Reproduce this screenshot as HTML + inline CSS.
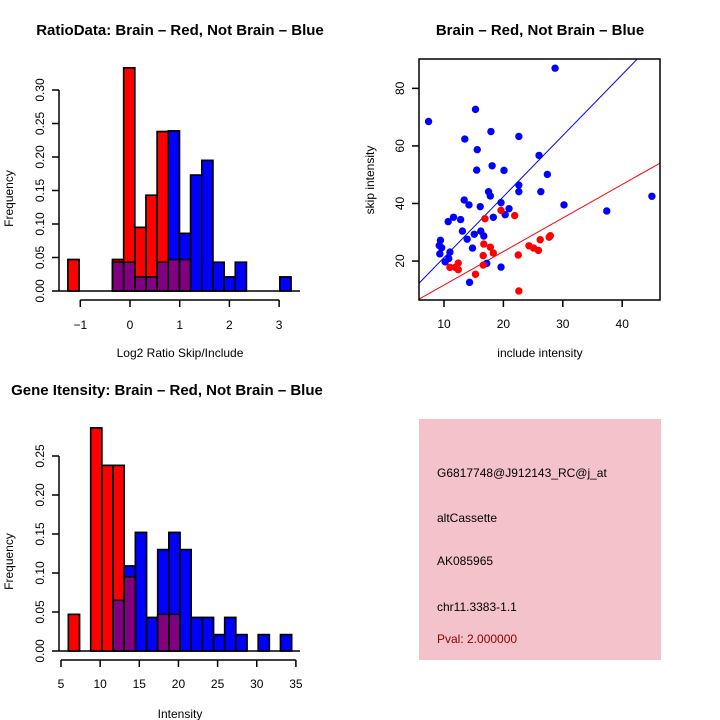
<!DOCTYPE html>
<html><head><meta charset="utf-8"><style>
body{margin:0;background:#fff}
svg{display:block;font-family:"Liberation Sans",sans-serif}
</style></head><body>
<svg id="s" width="720" height="720" viewBox="0 0 720 720">
<rect width="720" height="720" fill="#fff"/>
<g id="g1"></g>
<g id="g2"></g>
<g id="g3"></g>
<g>
<rect x="419" y="419" width="242" height="241" fill="#f4c2cb"/>
<text x="437" y="477" font-size="12">G6817748@J912143_RC@j_at</text>
<text x="437" y="522" font-size="12">altCassette</text>
<text x="437" y="565" font-size="12">AK085965</text>
<text x="437" y="611" font-size="12">chr11.3383-1.1</text>
<text x="437" y="643" font-size="12" fill="#8b0000">Pval: 2.000000</text>
</g>
</svg>
<script>
// Histogram 1 data
const h1Red=[0.047,0,0,0,0.047,0.333,0.095,0.143,0.238,0.047,0.047,0,0,0,0,0,0,0,0,0];
const h1Blue=[0,0,0,0,0.043,0.043,0.021,0.021,0.043,0.239,0.086,0.173,0.195,0.043,0.021,0.043,0,0,0,0.021];
const h1XTicks=[-1,0,1,2,3];
const h1YTicks=["0.00","0.05","0.10","0.15","0.20","0.25","0.30"];
// Histogram 2 data
const h2Red=[0.047,0,0.286,0.238,0.238,0.095,0,0,0.047,0.047,0,0,0,0,0,0,0,0,0,0];
const h2Blue=[0,0,0,0,0.065,0.109,0.152,0.043,0.130,0.152,0.130,0.043,0.043,0.021,0.043,0.021,0,0.021,0,0.021];
const h2XTicks=[5,10,15,20,25,30,35];
const h2YTicks=["0.00","0.05","0.10","0.15","0.20","0.25"];
// Scatter data
const blueX=[7.4,28.7,15.3,17.9,13.5,22.6,15.6,26.0,15.5,18.1,20.1,27.4,22.6,22.6,26.3,17.5,17.8,45.0,13.4,14.2,19.6,30.2,16.1,20.95,37.4,20.3,18.3,11.6,12.8,10.7,13.1,16.2,15.1,16.7,13.9,9.4,9.2,9.6,14.8,11.0,9.3,10.8,10.2,17.2,19.6,14.3];
const blueY=[68.5,87,72.7,65,62.4,63.3,58.7,56.7,51.6,53.1,51.5,50.1,46.4,44.1,44.1,44.1,42.6,42.5,41.2,39.5,40.3,39.5,38.9,38.2,37.4,36.1,35.2,35.2,34.4,33.7,30.4,30.4,29.3,28.7,27.6,27.2,25.4,24.6,24.5,23.1,22.5,20.9,19.7,19.2,17.9,12.6];
const redX=[19.6,21.9,16.9,16.7,17.8,18.3,16.6,22.5,27.9,27.7,26.2,24.3,25.1,25.9,16.6,12.4,11.0,11.9,12.4,15.3,22.6];
const redY=[37.6,35.8,34.7,25.9,24.8,22.8,21.9,22.1,28.8,28.3,27.4,25.3,24.5,23.7,18.6,19.3,17.8,17.8,17.0,15.4,9.6];
const blueSlope=2.12, redSlope=1.165;
const scXTicks=[10,20,30,40], scYTicks=[20,40,60,80];

const NS="http://www.w3.org/2000/svg";
function mk(parent,tag,attrs,txt){const e=document.createElementNS(NS,tag);for(const k in attrs)e.setAttribute(k,attrs[k]);if(txt!==undefined)e.textContent=txt;parent.appendChild(e);return e;}

function hist(g,red,blue,binStart,binW,xs,y0,yPerUnit,xTicks,yTicks,yStep,title,titleX,titleY,xlab,axisY,labY,xlabY){
  const X=v=>xs.o+v*xs.k, Y=v=>y0-v*yPerUnit;
  const t=mk(g,'text',{x:titleX,y:titleY,'text-anchor':'middle','font-size':15,'font-weight':'bold'},title);
  
  mk(g,'line',{x1:59,x2:300,y1:y0,y2:y0,stroke:'#000','stroke-width':1.5});
  const n=red.length;
  for(let i=0;i<n;i++){const x1=X(binStart+i*binW),x2=X(binStart+(i+1)*binW);
    if(red[i]>0){const r=mk(g,'rect',{x:x1,y:Y(red[i]),width:x2-x1,height:red[i]*yPerUnit,fill:'#f00',stroke:'#000','stroke-width':1.5});
      }}
  for(let i=0;i<n;i++){const x1=X(binStart+i*binW),x2=X(binStart+(i+1)*binW);
    if(blue[i]>0){const r=mk(g,'rect',{x:x1,y:Y(blue[i]),width:x2-x1,height:blue[i]*yPerUnit,fill:'#00f',stroke:'#000','stroke-width':1.5});
      }}
  for(let i=0;i<n;i++){const m=Math.min(red[i],blue[i]);if(m>0){const x1=X(binStart+i*binW),x2=X(binStart+(i+1)*binW);
    const r=mk(g,'rect',{x:x1,y:Y(m),width:x2-x1,height:m*yPerUnit,fill:'#800080'});
    }}
  for(let i=0;i<n;i++){const x1=X(binStart+i*binW),x2=X(binStart+(i+1)*binW);
    [red[i],blue[i]].forEach(v=>{if(v>0)mk(g,'rect',{x:x1,y:Y(v),width:x2-x1,height:v*yPerUnit,fill:'none',stroke:'#000','stroke-width':1.5});});}
  const ya=yTicks.length-1;
  mk(g,'line',{x1:59,x2:59,y1:Y(0),y2:Y(ya*yStep),stroke:'#000','stroke-width':1.5});
  yTicks.forEach((l,i)=>{const y=Y(i*yStep);mk(g,'line',{x1:52,x2:59,y1:y,y2:y,stroke:'#000','stroke-width':1.5});
    const tt=mk(g,'text',{x:0,y:0,transform:`translate(44,${y}) rotate(-90)`,'text-anchor':'middle','font-size':12},l);
    });
  const yl=mk(g,'text',{x:0,y:0,transform:`translate(13,${Y(ya*yStep/2)+8}) rotate(-90)`,'text-anchor':'middle','font-size':12},'Frequency');
  
  mk(g,'line',{x1:X(xTicks[0]),x2:X(xTicks[xTicks.length-1]),y1:axisY,y2:axisY,stroke:'#000','stroke-width':1.5});
  xTicks.forEach(v=>{mk(g,'line',{x1:X(v),x2:X(v),y1:axisY,y2:axisY+7,stroke:'#000','stroke-width':1.5});
    const tt=mk(g,'text',{x:X(v),y:labY,'text-anchor':'middle','font-size':12},String(v).replace('-','\u2212'));
    });
  const xl=mk(g,'text',{x:180,y:xlabY,'text-anchor':'middle','font-size':12},xlab);
  
}
hist(document.getElementById('g1'),h1Red,h1Blue,-1.25,0.2245,{o:130,k:49.7},291,670,h1XTicks,h1YTicks,0.05,
  'RatioData: Brain \u2013 Red, Not Brain \u2013 Blue',180,35,'Log2 Ratio Skip/Include',300,329,357);
hist(document.getElementById('g3'),h2Red,h2Blue,5.94,1.426,{o:61-5*7.83,k:7.83},651,780,h2XTicks,h2YTicks,0.05,
  'Gene Itensity: Brain \u2013 Red, Not Brain \u2013 Blue',167,395,'Intensity',660,688,718);

(function(){
  const g=document.getElementById('g2');
  const X=v=>384.6+v*5.94, Y=v=>318.6-v*2.878;
  const L=419,R=660,T=59,B=300;
  const t=mk(g,'text',{x:540,y:35,'text-anchor':'middle','font-size':15,'font-weight':'bold'},'Brain \u2013 Red, Not Brain \u2013 Blue');
  
  mk(g,'defs',{}).innerHTML='<clipPath id="cp"><rect x="419" y="59" width="241" height="241"/></clipPath>';
  const xmin=(L-384.6)/5.94,xmax=(R-384.6)/5.94;
  const bl=mk(g,'line',{x1:X(xmin),y1:Y(blueSlope*xmin),x2:X(xmax),y2:Y(blueSlope*xmax),stroke:'#00f','stroke-width':1,'clip-path':'url(#cp)'});
  
  const rl=mk(g,'line',{x1:X(xmin),y1:Y(redSlope*xmin),x2:X(xmax),y2:Y(redSlope*xmax),stroke:'#f00','stroke-width':1,'clip-path':'url(#cp)'});
  
  blueX.forEach((v,i)=>{const c=mk(g,'circle',{cx:X(v),cy:Y(blueY[i]),r:3.7,fill:'#00f'});
    });
  redX.forEach((v,i)=>{const c=mk(g,'circle',{cx:X(v),cy:Y(redY[i]),r:3.7,fill:'#f00'});
    });
  mk(g,'rect',{x:L,y:T,width:R-L,height:B-T,fill:'none',stroke:'#000','stroke-width':1.5});
  scXTicks.forEach(v=>{mk(g,'line',{x1:X(v),x2:X(v),y1:B,y2:B+7,stroke:'#000','stroke-width':1.5});
    const tt=mk(g,'text',{x:X(v),y:328,'text-anchor':'middle','font-size':12},String(v));
    });
  scYTicks.forEach(v=>{mk(g,'line',{x1:L-7,x2:L,y1:Y(v),y2:Y(v),stroke:'#000','stroke-width':1.5});
    const tt=mk(g,'text',{x:0,y:0,transform:`translate(404,${Y(v)}) rotate(-90)`,'text-anchor':'middle','font-size':12},String(v));
    });
  const xl=mk(g,'text',{x:540,y:357,'text-anchor':'middle','font-size':12},'include intensity');
  
  const yl=mk(g,'text',{x:0,y:0,transform:'translate(374,180) rotate(-90)','text-anchor':'middle','font-size':12},'skip intensity');
  
})();
</script>
</body></html>
